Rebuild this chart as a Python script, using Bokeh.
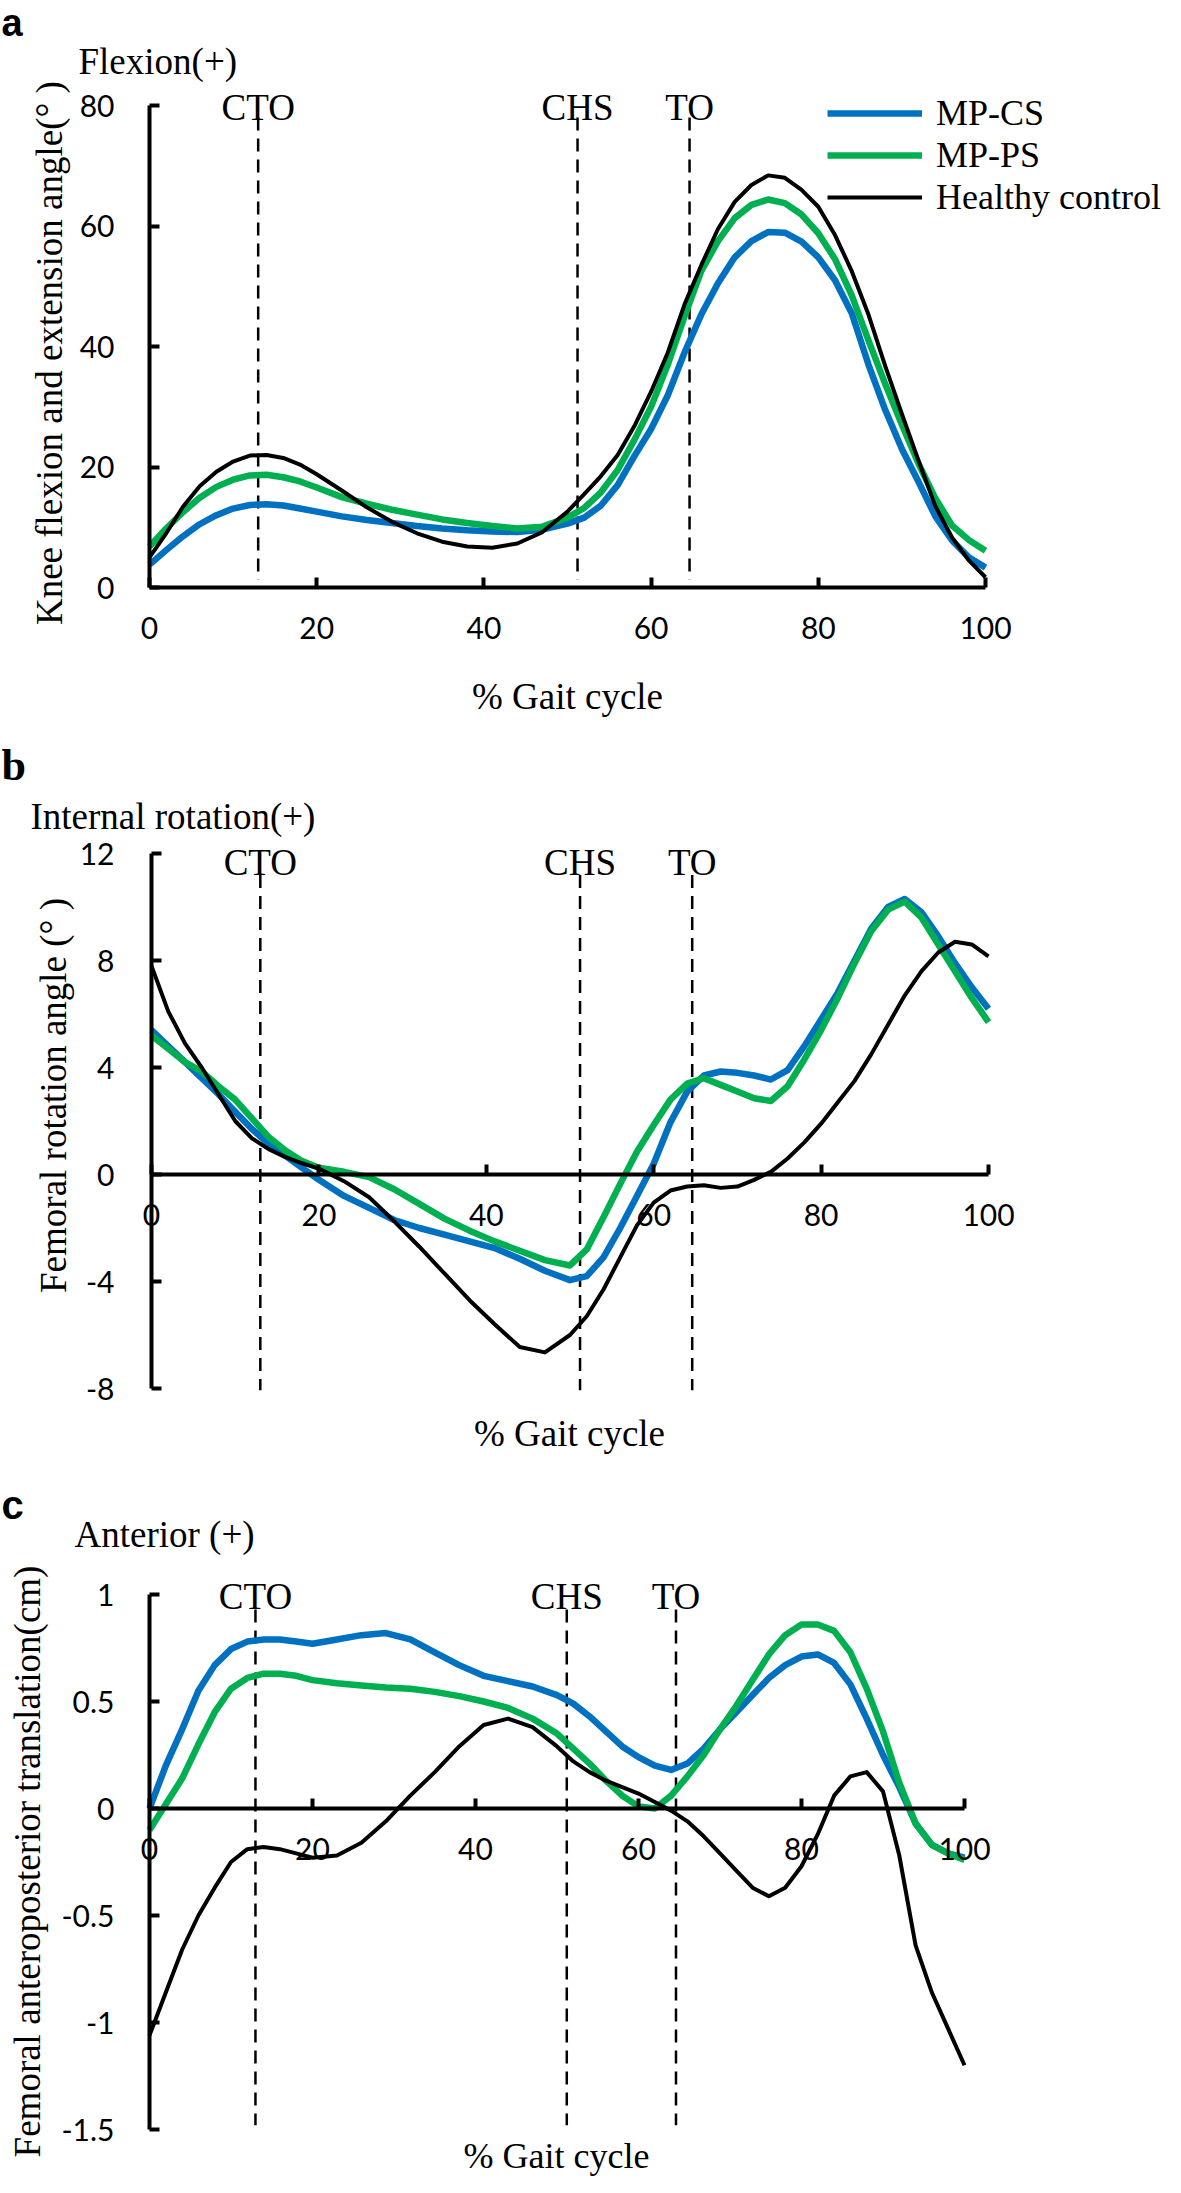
import math
from bokeh.plotting import figure
from bokeh.models import LinearAxis, FixedTicker, Label, Legend, LegendItem, Range1d
from bokeh.embed import file_html
from bokeh.resources import INLINE

# ---------------- data ----------------
gait = [0, 2, 4, 6, 8, 10, 12, 14, 16, 18, 20, 23, 26, 29, 32, 35, 38, 41, 44, 47, 50,
        52, 54, 56, 58, 60, 62, 64, 66, 68, 70, 72, 74, 76, 78, 80, 82, 84, 86, 88, 90,
        92, 94, 96, 98, 100]

series_names = ["MP-CS", "MP-PS", "Healthy control"]
event_pos = [13.0, 51.2, 64.6]
event_names = ["CTO", "CHS", "TO"]

# (a) knee flexion / extension angle (deg)
knee_cs = [3.8, 6.2, 8.5, 10.5, 12.0, 13.1, 13.7, 13.8, 13.6, 13.1, 12.6, 11.8, 11.2, 10.7, 10.2,
           9.8, 9.5, 9.3, 9.2, 9.6, 10.6, 11.6, 13.6, 17.0, 21.8, 26.3, 31.9, 39.0, 45.3, 50.5,
           54.8, 57.5, 59.0, 58.9, 57.4, 54.8, 51.0, 45.5, 37.0, 29.5, 23.0, 17.5, 11.8, 7.8,
           5.0, 3.3]
knee_ps = [6.8, 9.8, 12.5, 14.9, 16.7, 17.9, 18.6, 18.7, 18.3, 17.6, 16.6, 15.0, 13.9, 12.9, 12.1,
           11.3, 10.7, 10.2, 9.8, 10.1, 11.6, 13.2, 15.8, 19.5, 24.5, 30.0, 37.0, 45.0, 52.5, 57.5,
           61.3, 63.5, 64.4, 63.8, 61.9, 58.8, 54.5, 48.5, 41.0, 33.8, 27.0, 20.5, 14.8, 10.3,
           7.9, 6.1]
knee_hc = [5.0, 9.0, 13.4, 16.8, 19.2, 20.9, 21.9, 22.0, 21.5, 20.4, 18.8, 16.1, 13.3, 10.9, 9.0,
           7.6, 6.8, 6.6, 7.3, 9.2, 12.6, 15.5, 18.5, 22.0, 26.8, 32.5, 39.0, 47.0, 53.5, 59.5,
           64.0, 66.8, 68.4, 68.0, 66.0, 63.2, 58.5, 52.5, 45.3, 36.8, 28.8, 21.0, 13.5, 8.3,
           4.5, 1.7]

# (b) femoral rotation angle (deg)
rot_cs = [5.4, 4.8, 4.2, 3.6, 3.0, 2.35, 1.7, 1.15, 0.7, 0.25, -0.2, -0.8, -1.25, -1.7, -2.0,
          -2.25, -2.5, -2.75, -3.15, -3.6, -3.95, -3.8, -3.1, -2.0, -0.8, 0.4, 1.95, 3.1, 3.7,
          3.85, 3.8, 3.7, 3.55, 3.9, 4.8, 5.8, 6.8, 8.0, 9.2, 10.0, 10.3, 9.8, 8.9, 7.9, 7.0, 6.2]
rot_ps = [5.2, 4.7, 4.2, 3.85, 3.3, 2.8, 2.1, 1.4, 0.9, 0.5, 0.25, 0.1, -0.1, -0.55, -1.1,
          -1.65, -2.1, -2.5, -2.85, -3.2, -3.4, -2.8, -1.6, -0.35, 0.85, 1.85, 2.8, 3.4, 3.6,
          3.35, 3.1, 2.85, 2.75, 3.3, 4.3, 5.4, 6.6, 7.9, 9.1, 9.9, 10.2, 9.6, 8.6, 7.6, 6.6, 5.7]
rot_hc = [7.8, 6.1, 4.9, 4.0, 3.0, 2.0, 1.35, 0.95, 0.65, 0.42, 0.22, -0.25, -0.85, -1.75, -2.7,
          -3.7, -4.7, -5.6, -6.45, -6.65, -6.0, -5.3, -4.3, -3.1, -1.9, -1.05, -0.6, -0.45, -0.4,
          -0.5, -0.45, -0.2, 0.1, 0.6, 1.2, 1.9, 2.7, 3.5, 4.5, 5.6, 6.7, 7.6, 8.3, 8.7, 8.6, 8.15]

# (c) femoral anteroposterior translation (cm)
ap_cs = [0.0, 0.2, 0.37, 0.55, 0.67, 0.745, 0.78, 0.79, 0.79, 0.78, 0.77, 0.79, 0.81, 0.82, 0.79,
         0.73, 0.67, 0.62, 0.595, 0.57, 0.53, 0.49, 0.43, 0.36, 0.29, 0.24, 0.2, 0.18, 0.21, 0.28,
         0.37, 0.45, 0.53, 0.61, 0.67, 0.71, 0.72, 0.68, 0.58, 0.42, 0.25, 0.1, -0.07, -0.17,
         -0.21, -0.23]
ap_ps = [-0.1, 0.02, 0.14, 0.3, 0.45, 0.56, 0.61, 0.63, 0.63, 0.62, 0.6, 0.585, 0.575, 0.565, 0.56,
         0.545, 0.525, 0.5, 0.47, 0.42, 0.35, 0.28, 0.21, 0.13, 0.06, 0.01, 0.0, 0.06, 0.15, 0.25,
         0.37, 0.48, 0.6, 0.72, 0.81, 0.86, 0.86, 0.83, 0.73, 0.56, 0.36, 0.12, -0.07, -0.17,
         -0.21, -0.24]
ap_hc = [-1.06, -0.86, -0.66, -0.5, -0.37, -0.25, -0.19, -0.18, -0.19, -0.21, -0.23, -0.22, -0.16,
         -0.06, 0.06, 0.17, 0.29, 0.39, 0.42, 0.38, 0.29, 0.22, 0.17, 0.13, 0.1, 0.07, 0.03, -0.01,
         -0.06, -0.13, -0.21, -0.29, -0.37, -0.41, -0.37, -0.27, -0.12, 0.06, 0.15, 0.17, 0.08,
         -0.22, -0.64, -0.86, -1.03, -1.2]

x_ticks = [0, 20, 40, 60, 80, 100]
knee_ticks = [0, 20, 40, 60, 80]
rot_ticks = [-8, -4, 0, 4, 8, 12]
ap_ticks = [-1.5, -1, -0.5, 0, 0.5, 1]
ap_tick_text = ["-1.5", "-1", "-0.5", "0", "0.5", "1"]

# ---------------- styling / page geometry ----------------
LEFT, RIGHT, TOP, BOT = 8, 1173, 8, 2185      # canvas edges in page pixels (8px margin)
SERIF = "Liberation Serif"
TICKF = "Lato"
TXT = "37px"
TICK_SIZE = "30px"
BLUE = "#0070C0"
GREEN = "#00B050"
COL_W = 6.5
BLK_W = 4
ROT = math.pi / 2

# one figure; default ranges are page pixels (y downwards), each panel has own ranges
p = figure(width=RIGHT - LEFT, height=BOT - TOP,
           x_range=Range1d(LEFT, RIGHT), y_range=Range1d(BOT, TOP),
           min_border=0, min_border_left=0, min_border_right=0,
           min_border_top=0, min_border_bottom=0,
           x_axis_location=None, y_axis_location=None,
           toolbar_location=None, output_backend="svg", title=None)
p.xgrid.grid_line_color = None
p.ygrid.grid_line_color = None
p.outline_line_color = None
p.background_fill_color = "white"
p.border_fill_color = "white"


def page_text(px, py, txt, font=SERIF, size=TXT, style="normal", align="left", angle=0.0):
    p.add_layout(Label(x=px, y=py, text=txt, text_font=font, text_font_size=size,
                       text_font_style=style, text_align=align, text_baseline="alphabetic",
                       text_color="black", angle=angle))


def style_axis(ax, ticks, labels=None, bounds=None, tick_standoff=29):
    ax.ticker = FixedTicker(ticks=ticks)
    if labels is None:
        labels = [str(t) for t in ticks]
    ax.major_label_overrides = {t: l for t, l in zip(ticks, labels)}
    if bounds is not None:
        ax.bounds = bounds
    ax.axis_line_width = 4
    ax.axis_line_color = "black"
    ax.major_tick_line_width = 4
    ax.major_tick_line_color = "black"
    ax.major_tick_in = 10
    ax.major_tick_out = 0
    ax.minor_tick_line_color = None
    ax.major_label_text_font = TICKF
    ax.major_label_text_font_size = TICK_SIZE
    ax.major_label_text_color = "black"
    ax.major_label_standoff = tick_standoff


class Panel:
    def __init__(self, name, x0p, xs, y0p, ys):
        self.x0p, self.xs, self.y0p, self.ys = x0p, xs, y0p, ys
        self.xn, self.yn = "x" + name, "y" + name
        p.extra_x_ranges[self.xn] = Range1d(self.dx(LEFT), self.dx(RIGHT))
        p.extra_y_ranges[self.yn] = Range1d(self.dy(BOT), self.dy(TOP))

    def dx(self, px):
        return (px - self.x0p) / self.xs

    def dy(self, py):
        return (self.y0p - py) / self.ys

    def axes(self, yticks, ybounds, ylabels=None, ystandoff=35):
        ax = LinearAxis(fixed_location=0, x_range_name=self.xn, y_range_name=self.yn)
        style_axis(ax, x_ticks, bounds=(0, 100))
        p.add_layout(ax, "below")
        ay = LinearAxis(fixed_location=0, x_range_name=self.xn, y_range_name=self.yn)
        style_axis(ay, yticks, labels=ylabels, bounds=ybounds, tick_standoff=ystandoff)
        p.add_layout(ay, "left")

    def events(self, y_top, y_bot, label_py):
        p.segment(x0=event_pos, y0=[y_top] * 3, x1=event_pos, y1=[y_bot] * 3,
                  line_color="black", line_width=2.5, line_dash="13 8",
                  x_range_name=self.xn, y_range_name=self.yn)
        for xe, name in zip(event_pos, event_names):
            p.add_layout(Label(x=xe, y=self.dy(label_py), text=name, text_font=SERIF,
                               text_font_size=TXT, text_align="center",
                               text_baseline="alphabetic", text_color="black",
                               x_range_name=self.xn, y_range_name=self.yn))

    def curves(self, cs, ps, hc):
        kw = dict(x_range_name=self.xn, y_range_name=self.yn, line_join="round")
        r1 = p.line(gait, cs, line_color=BLUE, line_width=COL_W, **kw)
        r2 = p.line(gait, ps, line_color=GREEN, line_width=COL_W, **kw)
        r3 = p.line(gait, hc, line_color="black", line_width=BLK_W, **kw)
        return r1, r2, r3


# ---------------- panel a ----------------
A = Panel("a", x0p=157, xs=8.36, y0p=595, ys=6.025)
A.events(78.0, 1.3, 115)
ra = A.curves(knee_cs, knee_ps, knee_hc)
A.axes(knee_ticks, (0, 80))
page_text(575, 704, "% Gait cycle", align="center")
page_text(57, 356, "Knee flexion and extension angle(\u00b0  )", align="center", angle=ROT)
page_text(9, 30, "a", font="Liberation Sans", size="38px", style="bold")
page_text(86, 69, "Flexion(+)")
leg = Legend(items=[LegendItem(label=n, renderers=[r]) for n, r in zip(series_names, ra)],
             location=(827, (BOT - TOP) - 218), orientation="vertical",
             glyph_width=95, glyph_height=40, label_height=40, label_standoff=14,
             spacing=-3, padding=0, margin=0, border_line_color=None,
             background_fill_alpha=0, label_text_font=SERIF, label_text_font_size="36px",
             label_text_color="black")
p.add_layout(leg)

# ---------------- panel b ----------------
B = Panel("b", x0p=159, xs=8.37, y0p=1182, ys=26.75)
B.events(11.2, -8.07, 870)
B.curves(rot_cs, rot_ps, rot_hc)
B.axes(rot_ticks, (-8, 12), ystandoff=37)
page_text(577, 1441, "% Gait cycle", align="center")
page_text(61, 1103, "Femoral rotation angle (\u00b0 )", align="center", angle=ROT)
page_text(9, 773, "b", font=SERIF, size="44px", style="bold")
page_text(38, 824, "Internal rotation(+)")

# ---------------- panel c ----------------
C = Panel("c", x0p=157, xs=8.15, y0p=1816, ys=214.0)
C.events(0.93, -1.48, 1604)
C.curves(ap_cs, ap_ps, ap_hc)
C.axes(ap_ticks, (-1.5, 1), ylabels=ap_tick_text, ystandoff=35)
page_text(564, 2163, "% Gait cycle", size="36px", align="center")
page_text(35, 1869, "Femoral anteroposterior translation(cm)", align="center", angle=ROT)
page_text(9, 1512, "c", font="Liberation Sans", size="40px", style="bold")
page_text(82, 1542, "Anterior (+)")

open("out.html", "w").write(file_html(p, INLINE))
